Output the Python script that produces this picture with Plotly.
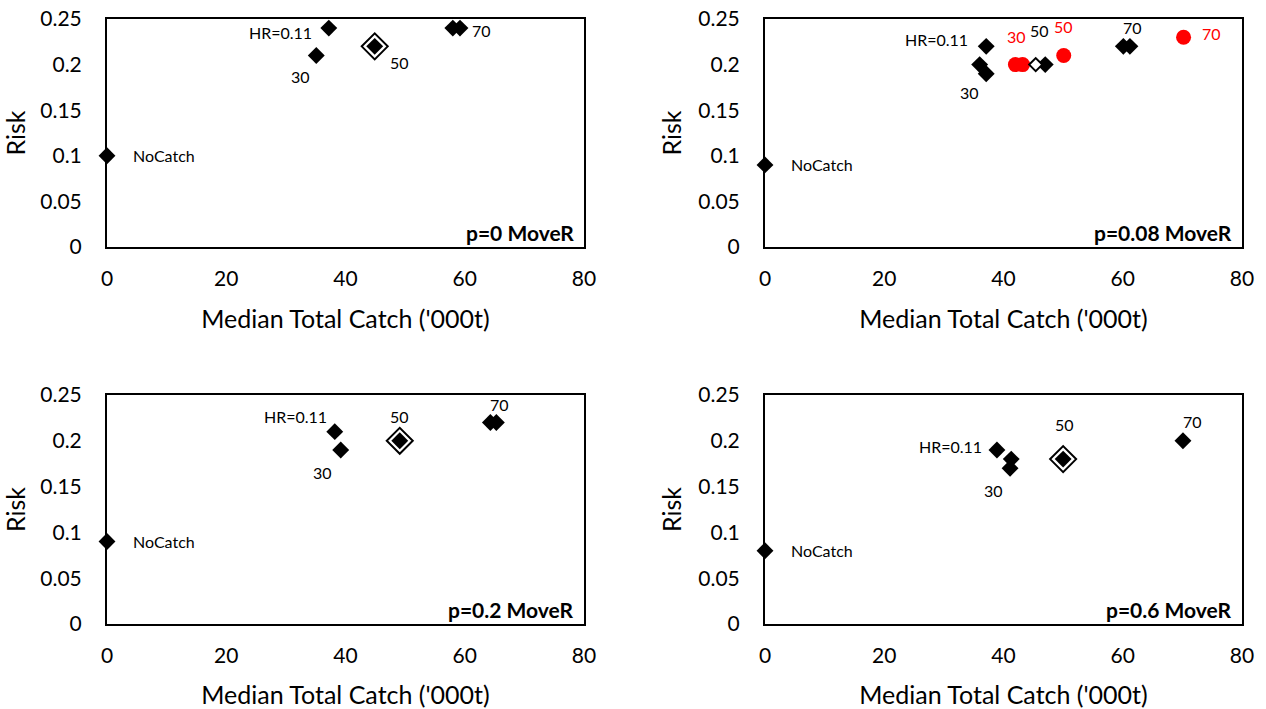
import plotly.graph_objects as go

# Risk vs median total catch under four movement-rate scenarios (p)
panels = ["p=0 MoveR", "p=0.08 MoveR", "p=0.2 MoveR", "p=0.6 MoveR"]

nocatch_risk = [0.10, 0.09, 0.09, 0.08]

# harvest strategies (black diamonds)
catch_p0 = [35.1, 37.2, 44.9, 58.0, 59.2]
risk_p0 = [0.21, 0.24, 0.22, 0.24, 0.24]
catch_p008 = [36.0, 37.1, 37.1, 47.0, 60.1, 61.2]
risk_p008 = [0.20, 0.22, 0.19, 0.20, 0.22, 0.22]
catch_p02 = [38.2, 39.2, 49.1, 64.3, 65.3]
risk_p02 = [0.21, 0.19, 0.20, 0.22, 0.22]
catch_p06 = [38.9, 41.1, 41.3, 50.0, 70.1]
risk_p06 = [0.19, 0.17, 0.18, 0.18, 0.20]

# highlighted strategy (outlined diamond)
sel_catch = [44.9, 45.4, 49.1, 50.0]
sel_risk = [0.22, 0.20, 0.20, 0.18]

# alternative strategies at p=0.08 (red circles)
red_catch = [42.0, 43.2, 50.1, 70.2]
red_risk = [0.20, 0.20, 0.21, 0.23]

x_ticks = [0, 20, 40, 60, 80]
y_ticks = [0, 0.05, 0.1, 0.15, 0.2, 0.25]
y_tick_text = ["0", "0.05", "0.1", "0.15", "0.2", "0.25"]

series = [(catch_p0, risk_p0), (catch_p008, risk_p008),
          (catch_p02, risk_p02), (catch_p06, risk_p06)]

# point labels: (panel, text, x, y, xshift, yshift, xanchor, colour)
labels = [
    (0, "NoCatch", 0, 0.10, 24, 0, "left", "black"),
    (0, "HR=0.11", 37.2, 0.24, -15, -4, "right", "black"),
    (0, "30", 35.1, 0.21, -16, -21, "center", "black"),
    (0, "50", 44.9, 0.22, 25, -16, "center", "black"),
    (0, "70", 59.2, 0.24, 22, -2, "center", "black"),
    (1, "NoCatch", 0, 0.09, 24, 0, "left", "black"),
    (1, "HR=0.11", 37.1, 0.22, -16, 7, "right", "black"),
    (1, "30", 37.1, 0.19, -17, -19, "center", "black"),
    (1, "50", 45.4, 0.20, 4, 34, "center", "black"),
    (1, "70", 61.2, 0.22, 3, 19, "center", "black"),
    (1, "30", 42.0, 0.20, 1, 28, "center", "red"),
    (1, "50", 50.1, 0.21, 0, 29, "center", "red"),
    (1, "70", 70.2, 0.23, 28, 4, "center", "red"),
    (2, "NoCatch", 0, 0.09, 24, 0, "left", "black"),
    (2, "HR=0.11", 38.2, 0.21, -6, 15, "right", "black"),
    (2, "30", 39.2, 0.19, -18, -23, "center", "black"),
    (2, "50", 49.1, 0.20, 0, 24, "center", "black"),
    (2, "70", 65.3, 0.22, 3, 18, "center", "black"),
    (3, "NoCatch", 0, 0.08, 24, 0, "left", "black"),
    (3, "HR=0.11", 38.9, 0.19, -13, 3, "right", "black"),
    (3, "30", 41.1, 0.17, -17, -22, "center", "black"),
    (3, "50", 50.0, 0.18, 1, 35, "center", "black"),
    (3, "70", 70.1, 0.20, 10, 19, "center", "black"),
]

W, H = 1266, 709
# plot-area boxes in pixels: (left, right, top, bottom)
boxes = [(107, 584, 19, 247), (765, 1242, 19, 247),
         (107, 584, 395, 624), (765, 1242, 395, 624)]

FONT = "Lato"
fig = go.Figure()

for i in range(4):
    xa = "x" if i == 0 else f"x{i+1}"
    ya = "y" if i == 0 else f"y{i+1}"
    cx, cy = series[i]

    if i != 1:
        # big outlined diamond behind the highlighted strategy
        fig.add_trace(go.Scatter(
            x=[sel_catch[i]], y=[sel_risk[i]], xaxis=xa, yaxis=ya,
            mode="markers", cliponaxis=False, showlegend=False,
            marker=dict(symbol="diamond", size=20, color="white",
                        line=dict(color="black", width=2))))

    fig.add_trace(go.Scatter(
        x=[0] + cx, y=[nocatch_risk[i]] + cy, xaxis=xa, yaxis=ya,
        mode="markers", cliponaxis=False, showlegend=False,
        marker=dict(symbol="diamond", size=13, color="black",
                    line=dict(width=0))))

    if i == 1:
        fig.add_trace(go.Scatter(
            x=red_catch, y=red_risk, xaxis=xa, yaxis=ya,
            mode="markers", cliponaxis=False, showlegend=False,
            marker=dict(symbol="circle", size=15, color="#ff0000",
                        line=dict(width=0))))
        fig.add_trace(go.Scatter(
            x=[sel_catch[i]], y=[sel_risk[i]], xaxis=xa, yaxis=ya,
            mode="markers", cliponaxis=False, showlegend=False,
            marker=dict(symbol="diamond", size=10, color="white",
                        line=dict(color="black", width=2))))

    l, r, t, b = boxes[i]
    axis_common = dict(showline=True, mirror=True, linecolor="black",
                       linewidth=2, showgrid=False, zeroline=False,
                       ticks="", automargin=False,
                       tickfont=dict(family=FONT, size=21, color="black"))
    fig.update_layout({
        ("xaxis" if i == 0 else f"xaxis{i+1}"): dict(
            domain=[l / W, r / W], anchor=ya, range=[0, 80],
            tickvals=x_ticks, ticklabelstandoff=12,
            title=dict(text="Median Total Catch ('000t)", standoff=21,
                       font=dict(family=FONT, size=25, color="black")),
            **axis_common),
        ("yaxis" if i == 0 else f"yaxis{i+1}"): dict(
            domain=[1 - b / H, 1 - t / H], anchor=xa, range=[0, 0.25],
            tickvals=y_ticks, ticktext=y_tick_text, ticklabelstandoff=19,
            title=dict(text="Risk", standoff=10,
                       font=dict(family=FONT, size=25, color="black")),
            **axis_common),
    })

    fig.add_annotation(
        text=f"<b>{panels[i]}</b>", xref=f"{xa} domain", yref=f"{ya} domain",
        x=1, y=0, xanchor="right", yanchor="bottom", xshift=-8, yshift=0,
        showarrow=False, font=dict(family=FONT, size=21, color="black"))

for (p, txt, x, y, dx, dy, anc, col) in labels:
    xa = "x" if p == 0 else f"x{p+1}"
    ya = "y" if p == 0 else f"y{p+1}"
    fig.add_annotation(
        text=txt, x=x, y=y, xref=xa, yref=ya, xshift=dx, yshift=dy,
        xanchor=anc, yanchor="middle", showarrow=False,
        font=dict(family=FONT, size=16, color=col))

fig.update_layout(
    width=W, height=H, margin=dict(l=0, r=0, t=0, b=0),
    paper_bgcolor="white", plot_bgcolor="white",
    font=dict(family=FONT, color="black"))

fig.write_html("out.html")
